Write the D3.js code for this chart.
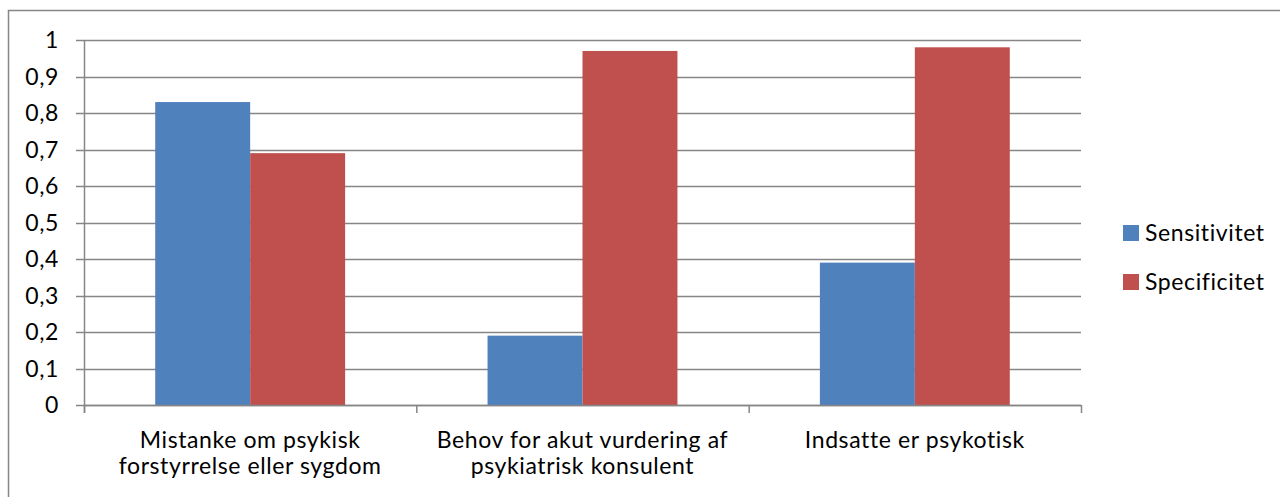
<!DOCTYPE html>
<html><head><meta charset="utf-8">
<script src="https://cdn.jsdelivr.net/npm/d3@7"></script>
<style>body{margin:0;background:#fff}svg{display:block}text{font-family:Lato,"Open Sans",sans-serif;fill:#000;letter-spacing:0.6px}</style>
</head><body><svg id="c" width="1280" height="497"></svg>
<script>
const categories = [["Mistanke om psykisk","forstyrrelse eller sygdom"],["Behov for akut vurdering af","psykiatrisk konsulent"],["Indsatte er psykotisk"]];
const seriesNames = ["Sensitivitet","Specificitet"];
const sensitivitet = [0.83, 0.19, 0.39];
const specificitet = [0.69, 0.97, 0.98];
const yTicks = [0,0.1,0.2,0.3,0.4,0.5,0.6,0.7,0.8,0.9,1];
const colors = ["#4F81BD","#C0504D"];

(function(){
const svg = d3.select("#c");
const pLeft=84, pRight=1081, pTop=40, pBottom=405;
const fs = 23;
const x = d3.scaleBand().domain(d3.range(categories.length)).range([pLeft,pRight]).paddingInner(0).paddingOuter(0);
const y = d3.scaleLinear().domain([0,1]).range([pBottom,pTop]);
const grid="#868686";

svg.append("rect").attr("x",8.5).attr("y",10.5).attr("width",1290).attr("height",500).attr("fill","none").attr("stroke","#868686").attr("stroke-width",1.5);

svg.append("g").selectAll("line").data(yTicks).join("line")
  .attr("x1",76).attr("x2",pRight).attr("y1",d=>Math.round(y(d))+0.5).attr("y2",d=>Math.round(y(d))+0.5)
  .attr("stroke",grid).attr("stroke-width",1.5);
svg.append("g").selectAll("text").data(yTicks).join("text")
  .attr("x",59).attr("y",d=>y(d)).attr("dy","0.35em").attr("text-anchor","end")
  .attr("font-size",fs).text(d=>String(d).replace(".",","));

const sub = d3.scaleBand().domain([0,1]).range([0,x.bandwidth()]).paddingInner(0).paddingOuter(0.75);
const data = [sensitivitet, specificitet];
data.forEach((vals,si)=>{
  svg.append("g").selectAll("rect").data(vals).join("rect")
    .attr("x",(d,i)=>x(i)+sub(si)).attr("width",sub.bandwidth())
    .attr("y",d=>y(d)).attr("height",d=>y(0)-y(d)).attr("fill",colors[si]);
});

svg.append("line").attr("x1",pLeft+0.5).attr("x2",pLeft+0.5).attr("y1",pTop).attr("y2",pBottom+8).attr("stroke",grid).attr("stroke-width",1.5);
svg.append("line").attr("x1",pLeft).attr("x2",pRight).attr("y1",pBottom+0.5).attr("y2",pBottom+0.5).attr("stroke",grid).attr("stroke-width",1.5);
svg.append("g").selectAll("line").data(d3.range(categories.length+1)).join("line")
  .attr("x1",i=>(i<categories.length?x(i):pRight)+0.5).attr("x2",i=>(i<categories.length?x(i):pRight)+0.5)
  .attr("y1",pBottom).attr("y2",pBottom+8).attr("stroke",grid).attr("stroke-width",1.5);

categories.forEach((lines,i)=>{
  const cx = x(i)+x.bandwidth()/2;
  const t = svg.append("text").attr("x",cx).attr("y",448).attr("text-anchor","middle").attr("font-size",fs);
  lines.forEach((l,j)=>t.append("tspan").attr("x",cx).attr("dy",j?26:0).text(l));
});

seriesNames.forEach((n,i)=>{
  const ly = 233 + i*49;
  svg.append("rect").attr("x",1123).attr("y",ly-8).attr("width",16).attr("height",16).attr("fill",colors[i]);
  svg.append("text").attr("x",1145).attr("y",ly).attr("dy","0.35em").attr("font-size",fs).text(n);
});
})();
</script></body></html>
